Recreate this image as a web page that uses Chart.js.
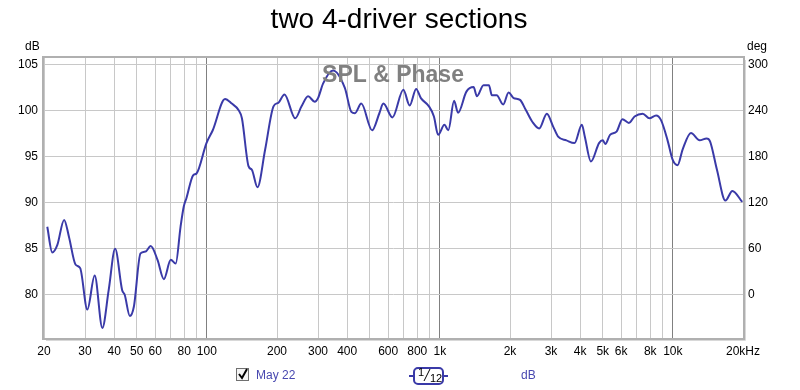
<!DOCTYPE html>
<html>
<head>
<meta charset="utf-8">
<script src="https://cdn.jsdelivr.net/npm/chart.js@4"></script>
<style>
  html, body { margin: 0; padding: 0; background: #fff; }
  #wrap { width: 800px; height: 390px; }
</style>
</head>
<body>
<div id="wrap"><canvas id="splChart" width="800" height="390"></canvas></div>
<script>
// Frequency response (Hz, dB)
const freqs = [20.66, 21.7, 22.8, 24.4, 25.6, 27.3, 28.6, 30.7, 33.0, 35.6, 37.9, 40.4, 43.3, 44.4, 46.7, 48.6,
  51.9, 54.6, 57.4, 61.4, 65.4, 70, 73.5, 77.1, 79.6, 81.7, 87.3, 90.3, 99.6, 106, 119.7, 127.9, 136.7, 141.4,
  150.9, 156, 164.9, 177.9, 193.2, 202.9, 215.3, 239.4, 254.9, 271.9, 290.4, 300, 315.6, 348, 391, 417, 432,
  460, 512, 550, 572, 626, 697, 742, 791, 829, 898, 943, 983, 1046, 1087, 1151, 1197, 1300, 1395, 1443, 1539,
  1624, 1672, 1753, 1870, 1972, 2074, 2208, 2339, 2497, 2668, 2879, 3064, 3219, 3491, 3781, 4069, 4190, 4450,
  4822, 5002, 5130, 5374, 5732, 6076, 6478, 6850, 7425, 7933, 8472, 8896, 9491, 9975, 10480, 11010, 11960,
  13030, 13960, 14440, 15460, 16810, 18010, 19860];
const splDb = [87.4, 84.6, 85.4, 88.15, 86.3, 83.3, 82.9, 78.4, 82.1, 76.4, 80.5, 85.0, 80.5, 80.0, 77.7, 78.7,
  84.5, 84.7, 85.3, 83.8, 81.7, 83.8, 83.4, 87.4, 89.6, 90.5, 93.0, 93.2, 96.5, 97.9, 101.3, 100.8, 100.1, 99.2,
  94.0, 93.6, 91.7, 95.8, 100.5, 100.9, 101.8, 99.2, 100.5, 101.6, 101.0, 101.4, 103.0, 104.4, 102.5, 99.9, 99.75,
  100.8, 97.9, 99.75, 100.8, 99.3, 102.3, 100.6, 102.4, 101.4, 100.5, 99.4, 97.4, 98.5, 97.9, 101.1, 99.8, 102.1,
  102.6, 101.6, 102.8, 102.8, 101.7, 101.7, 100.7, 102.0, 101.4, 101.2, 100.1, 98.8, 98.1, 99.7, 98.3, 97.2,
  96.8, 96.5, 98.5, 97.2, 94.5, 96.5, 96.8, 96.4, 97.4, 97.75, 99.1, 98.7, 99.4, 99.7, 99.2, 99.5, 99.0, 96.8,
  94.7, 94.1, 95.8, 97.6, 96.8, 97.0, 96.7, 93.6, 90.25, 91.3, 90.1];

// Axis ticks
const freqGrid = [20, 30, 40, 50, 60, 70, 80, 90, 100, 200, 300, 400, 500, 600, 700, 800, 900,
  1000, 2000, 3000, 4000, 5000, 6000, 7000, 8000, 9000, 10000, 20000];
const freqLabels = { 20: "20", 30: "30", 40: "40", 50: "50", 60: "60", 80: "80", 100: "100", 200: "200",
  300: "300", 400: "400", 600: "600", 800: "800", 1000: "1k", 2000: "2k", 3000: "3k", 4000: "4k",
  5000: "5k", 6000: "6k", 8000: "8k", 10000: "10k", 20000: "20kHz" };
const dbTicks = [80, 85, 90, 95, 100, 105];
const degTicks = [0, 60, 120, 180, 240, 300];

const dbMin = 75.3, dbMax = 105.76;
const degOf = (db) => (db - 80) * 12;

const FONT = "'Liberation Sans', Arial, sans-serif";

const overlay = {
  id: "overlay",
  afterDraw(chart) {
    const ctx = chart.ctx;
    const a = chart.chartArea;
    ctx.save();
    // plot frame
    ctx.strokeStyle = "#b0b0b0";
    ctx.lineWidth = 2;
    ctx.strokeRect(a.left - 1, a.top - 1, a.right - a.left + 2, a.bottom - a.top + 2);
    ctx.strokeStyle = "#d8d8d8";
    ctx.lineWidth = 1;
    ctx.beginPath();
    ctx.moveTo(a.right + 2.5, a.top + 2); ctx.lineTo(a.right + 2.5, a.bottom + 2.5); ctx.lineTo(a.left + 2, a.bottom + 2.5);
    ctx.stroke();

    ctx.fillStyle = "#000";
    ctx.textBaseline = "middle";
    ctx.textAlign = "center";
    ctx.font = "28px " + FONT;
    ctx.fillText("two 4-driver sections", 399, 20);

    ctx.font = "12px " + FONT;
    ctx.textAlign = "left";
    ctx.fillText("dB", 25, 47);
    ctx.fillText("deg", 747, 47);

    ctx.font = "bold 23px " + FONT;
    ctx.fillStyle = "#808080";
    ctx.textAlign = "center";
    ctx.fillText("SPL & Phase", 393, 76);

    // legend row
    ctx.strokeStyle = "#707070";
    ctx.lineWidth = 1;
    ctx.fillStyle = "#f4f4f4";
    ctx.fillRect(236.5, 368.5, 12, 12);
    ctx.strokeRect(236.5, 368.5, 12, 12);
    ctx.strokeStyle = "#000";
    ctx.lineWidth = 2;
    ctx.beginPath();
    ctx.moveTo(239, 374); ctx.lineTo(242, 378); ctx.lineTo(247, 369);
    ctx.stroke();

    ctx.font = "12px " + FONT;
    ctx.textAlign = "left";
    ctx.fillStyle = "#4848b0";
    ctx.fillText("May 22", 256, 376);
    ctx.fillText("dB", 521, 376);

    ctx.strokeStyle = "#3a3aa8";
    ctx.lineWidth = 2;
    ctx.beginPath();
    ctx.moveTo(409, 376); ctx.lineTo(414, 376);
    ctx.moveTo(443, 376); ctx.lineTo(448, 376);
    ctx.stroke();
    ctx.beginPath();
    ctx.roundRect(414, 368, 29, 16, 4);
    ctx.stroke();
    ctx.fillStyle = "#000";
    ctx.font = "11px " + FONT;
    ctx.fillText("1", 418, 373);
    ctx.fillText("12", 430, 379);
    ctx.lineWidth = 1;
    ctx.strokeStyle = "#000";
    ctx.beginPath();
    ctx.moveTo(424, 381); ctx.lineTo(430, 369);
    ctx.stroke();
    ctx.restore();
  }
};

new Chart(document.getElementById("splChart"), {
  type: "line",
  data: {
    datasets: [{
      label: "May 22",
      data: freqs.map((f, i) => ({ x: f, y: splDb[i] })),
      borderColor: "#3a3aa8",
      borderWidth: 2,
      pointRadius: 0,
      cubicInterpolationMode: "monotone",
      yAxisID: "y"
    }]
  },
  options: {
    responsive: false,
    animation: false,
    layout: { padding: { top: 58, left: 0, right: 0, bottom: 0 } },
    plugins: { legend: { display: false }, title: { display: false }, tooltip: { enabled: false } },
    scales: {
      x: {
        type: "logarithmic",
        min: 20,
        max: 20000,
        afterBuildTicks: (s) => { s.ticks = freqGrid.map((v) => ({ value: v })); },
        afterFit: (s) => { s.height = 52; },
        ticks: {
          autoSkip: false,
          maxRotation: 0,
          padding: 6,
          color: "#000",
          font: { family: FONT, size: 12 },
          callback: (v) => freqLabels[v] || ""
        },
        grid: {
          drawTicks: false,
          color: (c) => ([100, 1000, 10000].includes(c.tick && c.tick.value) ? "#808080" : "#c8c8c8")
        },
        border: { display: false }
      },
      y: {
        position: "left",
        min: dbMin,
        max: dbMax,
        afterBuildTicks: (s) => { s.ticks = dbTicks.map((v) => ({ value: v })); },
        afterFit: (s) => { s.width = 44; },
        ticks: { padding: 6, color: "#000", font: { family: FONT, size: 12 } },
        grid: { drawTicks: false, color: "#c8c8c8" },
        border: { display: false }
      },
      y2: {
        position: "right",
        min: degOf(dbMin),
        max: degOf(dbMax),
        afterBuildTicks: (s) => { s.ticks = degTicks.map((v) => ({ value: v })); },
        afterFit: (s) => { s.width = 57; },
        ticks: { padding: 5, color: "#000", font: { family: FONT, size: 12 } },
        grid: { display: false, drawTicks: false },
        border: { display: false }
      }
    }
  },
  plugins: [overlay]
});
</script>
</body>
</html>
